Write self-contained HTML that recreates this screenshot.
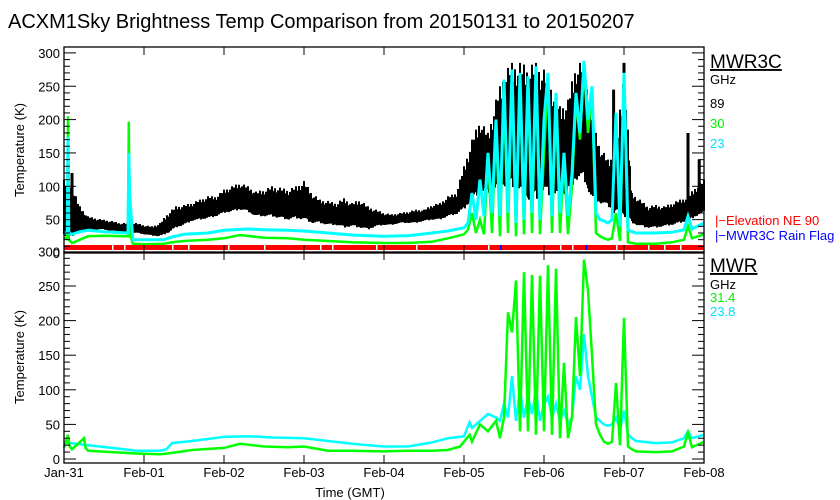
<!DOCTYPE html>
<html><head><meta charset="utf-8"><style>
html,body{margin:0;padding:0;background:#fff;}
svg{display:block;font-family:"Liberation Sans",sans-serif;}
</style></head><body>
<svg id="chart" width="840" height="500" viewBox="0 0 840 500">
<text x="8" y="28" font-size="20" fill="#000">ACXM1Sky Brightness Temp Comparison from 20150131 to 20150207</text>
<g id="top"></g>
<g id="bot"></g>
<text transform="translate(24,150) rotate(-90)" text-anchor="middle" font-size="13">Temperature (K)</text>
<text transform="translate(24,357) rotate(-90)" text-anchor="middle" font-size="13">Temperature (K)</text>
<text x="350" y="497" text-anchor="middle" font-size="13">Time (GMT)</text>
<text x="710" y="68" font-size="19" text-decoration="underline">MWR3C</text>
<text x="710" y="84" font-size="13">GHz</text>
<text x="710" y="108" font-size="13" fill="#000">89</text>
<text x="710" y="128" font-size="13" fill="#00ee00">30</text>
<text x="710" y="148" font-size="13" fill="#00e0ff">23</text>
<text x="715" y="225" font-size="13" fill="#ff0000">|−Elevation NE 90</text>
<text x="715" y="240" font-size="13" fill="#0000ff">|−MWR3C Rain Flag</text>
<text x="710" y="272" font-size="19" text-decoration="underline">MWR</text>
<text x="710" y="289" font-size="13">GHz</text>
<text x="710" y="302" font-size="13" fill="#00ee00">31.4</text>
<text x="710" y="316" font-size="13" fill="#00e0ff">23.8</text>
</svg>
<script>
const dayLabels=["Jan-31","Feb-01","Feb-02","Feb-03","Feb-04","Feb-05","Feb-06","Feb-07","Feb-08"];
const yTicks=[0,50,100,150,200,250,300];
const denseT=[5.05,5.10,5.15,5.20,5.25,5.30,5.35,5.40,5.45,5.50,5.55,5.60,5.65,5.70,5.75,5.80,5.85,5.90,5.95,6.00,6.05,6.10,6.15,6.20,6.25,6.30,6.35,6.40,6.45,6.50,6.55,6.60,6.65,6.70,6.75,6.80,6.85,6.90,6.95,7.00,7.05,7.10];
// MWR3C 89 GHz envelope (t = 0..8 step 0.1)
const ch89Hi=[110,100,70,55,52,50,48,45,45,45,42,40,45,60,70,72,75,80,85,85,95,100,105,100,92,95,100,98,95,100,108,90,80,78,75,82,75,80,70,65,60,58,60,62,65,65,72,75,85,90,130,170,200,180,230,270,285,285,280,285,275,250,220,230,285,285,200,160,140,150,280,90,80,70,72,70,75,80,85,100,110];
const ch89Lo=[20,25,30,35,35,35,33,32,30,30,28,26,25,30,38,42,48,50,52,55,60,62,65,62,55,55,55,52,50,52,50,45,45,42,42,38,40,38,35,40,42,42,45,45,45,48,50,50,55,58,65,80,90,90,95,100,100,90,80,80,90,85,85,90,110,110,80,75,70,60,55,45,40,38,38,40,42,45,48,55,60];
const spike89T=[0.1,6.87,7.0,7.8,7.94];
const spike89V=[120,245,285,180,140];
const ch23T=[0,0.04,0.05,0.06,0.1,0.2,0.3,0.5,0.8,0.81,0.82,0.86,1.0,1.25,1.35,1.5,1.8,2.0,2.3,2.5,2.8,3.0,3.3,3.6,4.0,4.3,4.6,4.8,5.0].concat(denseT,[7.15,7.4,7.6,7.75,7.8,7.85,8.0]);
const ch23V=[30,30,174,30,28,32,34,32,30,150,90,20,20,20,24,28,30,34,36,35,34,33,30,27,25,26,30,33,38,
45,90,50,110,55,150,60,200,55,260,60,275,45,270,50,265,60,280,50,200,270,55,240,60,150,55,120,240,180,288,200,250,60,50,48,45,50,210,40,270,35,32,
30,30,31,35,55,36,45];
const ch30T=[0,0.04,0.05,0.06,0.1,0.2,0.3,0.5,0.8,0.81,0.82,0.86,1.0,1.25,1.35,1.5,1.8,2.0,2.2,2.5,2.8,3.0,3.3,3.6,4.0,4.3,4.6,4.8,5.0].concat(denseT,[7.15,7.4,7.6,7.75,7.8,7.85,8.0]);
const ch30V=[22,22,205,20,15,20,25,26,25,197,30,14,13,14,16,18,20,22,27,23,22,20,18,16,15,15,17,22,28,
35,60,30,50,28,140,30,190,25,240,30,265,25,260,28,255,30,270,28,150,265,30,230,30,140,28,100,230,170,280,180,240,30,25,22,20,22,60,18,260,16,15,
14,14,16,20,40,22,28];
const denseB=denseT.slice(8);
const mwr23T=[0,0.3,0.6,0.9,1.2,1.28,1.35,1.6,2.0,2.3,2.6,3.0,3.3,3.6,4.0,4.3,4.6,4.8,5.0,5.07,5.1,5.2,5.3,5.4].concat(denseB,[7.15,7.4,7.6,7.75,7.8,7.85,8.0]);
const mwr23V=[24,20,16,12,12,14,23,26,32,33,31,30,26,22,18,18,24,30,33,53,45,55,65,60,
55,80,60,120,55,100,60,90,65,100,55,80,90,60,80,55,70,50,60,120,100,180,120,90,60,55,50,48,50,60,42,70,35,30,
26,23,24,30,40,30,35];
const mwr31T=[0,0.05,0.07,0.1,0.25,0.27,0.3,0.6,0.9,1.2,1.3,1.6,2.0,2.2,2.5,2.8,3.0,3.3,3.6,4.0,4.3,4.6,4.8,4.95,5.07,5.1,5.2,5.3,5.4].concat(denseB,[7.15,7.4,7.6,7.75,7.8,7.85,8.0]);
const mwr31V=[16,35,18,14,30,16,12,10,8,7,8,13,16,22,18,17,18,12,12,11,12,12,13,18,35,25,50,40,55,
30,60,212,183,258,40,270,40,266,35,265,40,280,35,275,30,139,30,60,205,120,288,244,150,50,35,25,22,25,110,20,204,18,14,
11,10,11,18,38,17,25];
const flagGaps=[0.6,0.75,1.35,1.55,2.05,2.5,3.2,3.35,3.9,4.4,5.3,6.2,6.35,6.9,7.3,7.5,7.7];
const rainT=[5.45,6.52];

const NS="http://www.w3.org/2000/svg";
const X0=64,X1=704,PX=80;
const xs=t=>X0+t*PX;
function mk(tag,attrs,parent){const e=document.createElementNS(NS,tag);for(const k in attrs)e.setAttribute(k,attrs[k]);parent.appendChild(e);return e;}
const topG=document.getElementById('top'),botG=document.getElementById('bot');
const ysT=v=>253-v*0.667, ysB=v=>459-v*0.692;

function drawAxes(g,ys,yTop,yBot,prefix){
  const fr=mk('rect',{x:X0,y:yTop,width:X1-X0,height:yBot-yTop,fill:'none',stroke:'#000','stroke-width':1.3},g);
  
  
  for(let v=0;v<=300;v+=10){
    const y=ys(v);if(y<yTop-0.5||y>yBot+0.5)continue;
    const len=v%50===0?12:6;
    const t1=mk('line',{x1:X0,x2:X0+len,y1:y,y2:y,stroke:'#000','stroke-width':1},g);
    
    
    const t2=mk('line',{x1:X1,x2:X1-len,y1:y,y2:y,stroke:'#000','stroke-width':1},g);
    
    
  }
  yTicks.forEach(v=>{
    const tx=mk('text',{x:X0-4,y:ys(v)+5,'text-anchor':'end','font-size':13},g);
    tx.textContent=v;
    
    
  });
  dayLabels.forEach((d,i)=>{
    const a=mk('line',{x1:xs(i),x2:xs(i),y1:yBot,y2:yBot-8,stroke:'#000','stroke-width':1},g);
    
    
    const b=mk('line',{x1:xs(i),x2:xs(i),y1:yTop,y2:yTop+8,stroke:'#000','stroke-width':1},g);
    
    
  });
}
function line(g,T,V,ys,color,name,w){
  const d=T.map((t,i)=>(i?'L':'M')+xs(t).toFixed(1)+','+ys(V[i]).toFixed(1)).join('');
  const p=mk('path',{d:d,fill:'none',stroke:color,'stroke-width':w||2,'stroke-linejoin':'miter'},g);
  
  
}
// top panel: 89 GHz drawn as ragged vertical strokes inside the envelope
const texture=[1,0.8,0.92,0.7,1,0.85,0.75,0.95,0.82,0.68,0.9,0.78];
let d89='';
for(let px=0;px<=(X1-X0);px++){
  const t=px/PX, i=Math.min(Math.floor(t*10),ch89Hi.length-2), f=t*10-i;
  const hi=ch89Hi[i]+(ch89Hi[i+1]-ch89Hi[i])*f, lo=ch89Lo[i]+(ch89Lo[i+1]-ch89Lo[i])*f;
  const k=texture[px%texture.length], k2=texture[(px*5+3)%texture.length];
  const top=lo+(hi-lo)*k, bot=lo+(hi-lo)*(1-k2)*0.3;
  d89+='M'+(X0+px)+','+ysT(top).toFixed(1)+'V'+ysT(bot).toFixed(1);
}
const bp=mk('path',{d:d89,stroke:'#000','stroke-width':2,fill:'none'},topG);


spike89T.forEach((t,i)=>{
  const s=mk('line',{x1:xs(t),x2:xs(t),y1:ysT(60),y2:ysT(spike89V[i]),stroke:'#000','stroke-width':3},topG);
  
  
});
line(topG,ch30T,ch30V,ysT,'#00ff00','series-30ghz',2.5);
line(topG,ch23T,ch23V,ysT,'#00ffff','series-23ghz',3);
const fl=mk('rect',{x:X0,y:245,width:X1-X0,height:5,fill:'#ff0000'},topG);


flagGaps.forEach(t=>{
  const gp=mk('rect',{x:xs(t),y:245,width:1.5,height:5,fill:'#fff'},topG);
  
  
});
rainT.forEach(t=>{
  const r=mk('rect',{x:xs(t),y:245,width:1.5,height:5,fill:'#0000ff'},topG);
  
  
});
drawAxes(topG,ysT,47,253,'top');
// bottom panel
line(botG,mwr23T,mwr23V,ysB,'#00ffff','series-23-8ghz',2.5);
line(botG,mwr31T,mwr31V,ysB,'#00ff00','series-31-4ghz',2.5);
drawAxes(botG,ysB,252,463,'bottom');
dayLabels.forEach((d,i)=>{
  const tx=mk('text',{x:xs(i),y:477,'text-anchor':'middle','font-size':13},botG);
  tx.textContent=d;
  
  
});
</script>
</body></html>
